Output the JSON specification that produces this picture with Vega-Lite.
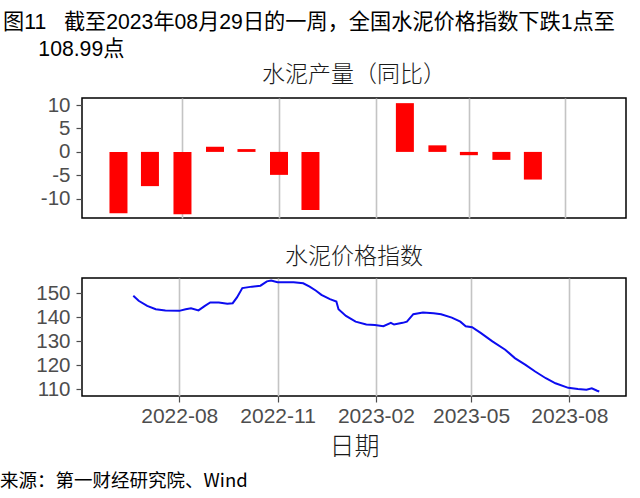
{
  "$schema": "https://vega.github.io/schema/vega-lite/v6.json",
  "padding": {"left": 0, "top": 12, "right": 5, "bottom": 5},
  "background": "white",
  "datasets": {
    "output": [
      {"date": "2022-06-01", "value": -13.1},
      {"date": "2022-07-01", "value": -7.3},
      {"date": "2022-08-01", "value": -13.3},
      {"date": "2022-09-01", "value": 1.1},
      {"date": "2022-10-01", "value": 0.6},
      {"date": "2022-11-01", "value": -4.9},
      {"date": "2022-12-01", "value": -12.4},
      {"date": "2023-03-01", "value": 10.4},
      {"date": "2023-04-01", "value": 1.4},
      {"date": "2023-05-01", "value": -0.7},
      {"date": "2023-06-01", "value": -1.7},
      {"date": "2023-07-01", "value": -5.9}
    ],
    "price": [
      {"date": "2022-06-19", "value": 148.9},
      {"date": "2022-06-24", "value": 146.8},
      {"date": "2022-07-02", "value": 144.7},
      {"date": "2022-07-10", "value": 143.3},
      {"date": "2022-07-19", "value": 142.8},
      {"date": "2022-08-01", "value": 142.6},
      {"date": "2022-08-07", "value": 143.3},
      {"date": "2022-08-12", "value": 143.7},
      {"date": "2022-08-19", "value": 142.8},
      {"date": "2022-08-25", "value": 144.7},
      {"date": "2022-08-30", "value": 146.1},
      {"date": "2022-09-07", "value": 146.1},
      {"date": "2022-09-15", "value": 145.6},
      {"date": "2022-09-20", "value": 145.8},
      {"date": "2022-09-24", "value": 148.2},
      {"date": "2022-09-29", "value": 152.1},
      {"date": "2022-10-08", "value": 152.7},
      {"date": "2022-10-16", "value": 153.1},
      {"date": "2022-10-22", "value": 154.9},
      {"date": "2022-10-26", "value": 155.2},
      {"date": "2022-11-01", "value": 154.5},
      {"date": "2022-11-08", "value": 154.5},
      {"date": "2022-11-16", "value": 154.5},
      {"date": "2022-11-25", "value": 154.1},
      {"date": "2022-12-01", "value": 152.7},
      {"date": "2022-12-07", "value": 151.0},
      {"date": "2022-12-12", "value": 149.3},
      {"date": "2022-12-20", "value": 147.5},
      {"date": "2022-12-26", "value": 146.5},
      {"date": "2022-12-28", "value": 143.3},
      {"date": "2023-01-04", "value": 140.5},
      {"date": "2023-01-13", "value": 138.1},
      {"date": "2023-01-23", "value": 136.9},
      {"date": "2023-01-31", "value": 136.7},
      {"date": "2023-02-08", "value": 136.2},
      {"date": "2023-02-15", "value": 137.6},
      {"date": "2023-02-18", "value": 136.9},
      {"date": "2023-02-26", "value": 137.6},
      {"date": "2023-03-02", "value": 138.1},
      {"date": "2023-03-08", "value": 141.2},
      {"date": "2023-03-17", "value": 141.9},
      {"date": "2023-03-27", "value": 141.6},
      {"date": "2023-04-03", "value": 141.2},
      {"date": "2023-04-13", "value": 139.8},
      {"date": "2023-04-21", "value": 138.1},
      {"date": "2023-04-26", "value": 136.2},
      {"date": "2023-05-02", "value": 135.8},
      {"date": "2023-05-10", "value": 133.4},
      {"date": "2023-05-21", "value": 129.9},
      {"date": "2023-06-02", "value": 126.4},
      {"date": "2023-06-11", "value": 122.9},
      {"date": "2023-06-21", "value": 120.1},
      {"date": "2023-06-30", "value": 117.3},
      {"date": "2023-07-10", "value": 114.5},
      {"date": "2023-07-19", "value": 112.4},
      {"date": "2023-07-31", "value": 110.5},
      {"date": "2023-08-09", "value": 110.0},
      {"date": "2023-08-17", "value": 109.7},
      {"date": "2023-08-22", "value": 110.3},
      {"date": "2023-08-27", "value": 109.3},
      {"date": "2023-08-29", "value": 108.99}
    ]
  },
  "title": {
    "text": ["图11\u00a0\u00a0\u00a0截至2023年08月29日的一周，全国水泥价格指数下跌1点至", "\u200b\u00a0\u00a0\u00a0\u00a0\u00a0\u00a0108.99点"],
    "anchor": "start",
    "frame": "bounds",
    "dx": 3,
    "font": "Liberation Sans, Noto Sans CJK SC",
    "fontSize": 21.2,
    "fontWeight": "normal",
    "color": "#000000",
    "lineHeight": 27,
    "offset": 3
  },
  "vconcat": [
    {
      "title": {"text": "水泥产量（同比）"},
      "width": 544,
      "height": 120,
      "data": {"name": "output"},
      "mark": {"type": "bar", "color": "#ff0000", "size": 18},
      "encoding": {
        "x": {
          "field": "date", "type": "temporal",
          "scale": {"type": "utc", "domain": [{"year": 2022, "month": 5, "date": 2, "utc": true}, {"year": 2023, "month": 9, "date": 23, "utc": true}]},
          "axis": {
            "title": null, "labels": false, "ticks": false, "domain": false, "grid": true,
            "values": [{"year": 2022, "month": 8, "date": 1, "utc": true}, {"year": 2022, "month": 11, "date": 1, "utc": true}, {"year": 2023, "month": 2, "date": 1, "utc": true}, {"year": 2023, "month": 5, "date": 1, "utc": true}, {"year": 2023, "month": 8, "date": 1, "utc": true}]
          }
        },
        "y": {
          "field": "value", "type": "quantitative",
          "scale": {"domain": [-14.1, 11.5], "nice": false, "zero": false},
          "axis": {"title": null, "values": [-10, -5, 0, 5, 10], "grid": false, "domain": false, "labelExpr": "'' + datum.value"}
        }
      }
    },
    {
      "title": {"text": "来源：第一财经研究院、Wind", "orient": "bottom", "anchor": "start", "frame": "bounds", "fontSize": 18.5, "fontWeight": "normal", "color": "#000000", "offset": 12, "dx": -35},
      "vconcat": [
        {
          "title": {"text": "水泥价格指数"},
          "width": 544,
          "height": 118,
          "data": {"name": "price"},
          "mark": {"type": "line", "color": "#0c0cf0", "strokeWidth": 2},
          "encoding": {
            "x": {
              "field": "date", "type": "temporal",
              "scale": {"type": "utc", "domain": [{"year": 2022, "month": 5, "date": 2, "utc": true}, {"year": 2023, "month": 9, "date": 23, "utc": true}]},
              "axis": {
                "title": "日期", "format": "%Y-%m", "grid": true, "domain": false, "ticks": true,
                "labelFontSize": 21, "labelPadding": 3,
                "titleFontSize": 25, "titleFont": "Noto Sans CJK SC", "titleFontWeight": 300, "titleColor": "#1a1a1a", "titlePadding": 8,
                "values": [{"year": 2022, "month": 8, "date": 1, "utc": true}, {"year": 2022, "month": 11, "date": 1, "utc": true}, {"year": 2023, "month": 2, "date": 1, "utc": true}, {"year": 2023, "month": 5, "date": 1, "utc": true}, {"year": 2023, "month": 8, "date": 1, "utc": true}]
              }
            },
            "y": {
              "field": "value", "type": "quantitative",
              "scale": {"domain": [107.1, 156.3], "nice": false, "zero": false},
              "axis": {"title": null, "values": [110, 120, 130, 140, 150], "grid": false, "domain": false}
            }
          }
        }
      ]
    }
  ],
  "resolve": {"scale": {"x": "independent", "y": "independent"}},
  "spacing": 25,
  "config": {
    "font": "Liberation Sans, Noto Sans CJK SC",
    "view": {"stroke": "#000000", "strokeWidth": 1.5},
    "axis": {
      "labelFont": "Liberation Sans",
      "labelFontSize": 20.5,
      "labelColor": "#4d4d4d",
      "tickColor": "#4d4d4d",
      "tickSize": 6,
      "tickWidth": 1.2,
      "labelPadding": 6,
      "gridColor": "#c4c4c4",
      "gridWidth": 1.6
    },
    "title": {
      "font": "Noto Sans CJK SC",
      "fontSize": 23,
      "fontWeight": 300,
      "color": "#1a1a1a",
      "anchor": "middle",
      "offset": 8
    },
    "concat": {"spacing": 25}
  }
}
